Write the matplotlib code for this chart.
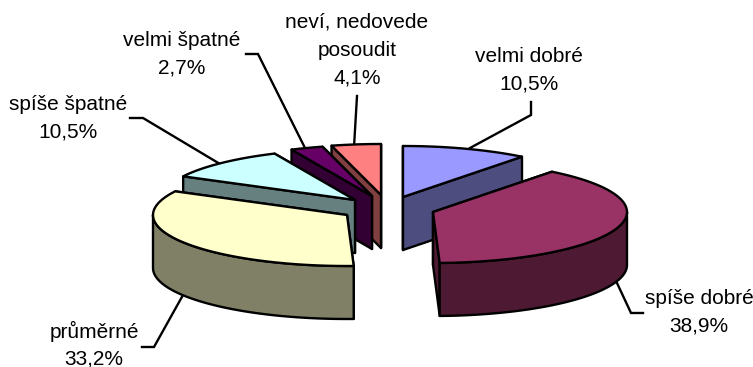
import numpy as np
import matplotlib
matplotlib.use("Agg")
import matplotlib.pyplot as plt

plt.rcParams['font.family'] = ['Liberation Sans', 'DejaVu Sans']

# slices clockwise from 12 o'clock
categories = ["velmi dobré", "spíše dobré", "průměrné", "spíše špatné", "velmi špatné", "neví, nedovede\nposoudit"]
values = [10.5, 38.9, 33.2, 10.5, 2.7, 4.1]
top_colors = ["#9999FF", "#993366", "#FFFFCC", "#CCFFFF", "#660066", "#FF8080"]
side_colors = ["#4D4D80", "#4D1933", "#808066", "#668080", "#330033", "#804040"]

# where each exploded slice has its tip, in pixels
tips = [(403, 197), (433, 212), (347, 215), (355, 200), (372, 196), (381, 195)]
label_pos = [(529, 56), (699, 298), (94, 331), (68, 104), (182, 40), (357, 22)]
leaders = [
    [(531, 102), (531, 115), (470, 148)],
    [(643, 313), (631, 313), (617, 283)],
    [(142, 347), (154, 347), (183, 295)],
    [(130, 118), (143, 118), (220, 164)],
    [(246, 54), (258, 54), (305, 148)],
    [(357, 96), (354, 147)],
]

RX = 194
RY = 51
DEPTH = 53
LW = 1.7
draw_order = [5, 4, 3, 2, 0, 1]


def rim(tip, angles):
    rad = np.radians(angles)
    return tip[0] + RX * np.sin(rad), tip[1] - RY * np.cos(rad)


def face(ax, xs, ys, color, z):
    ax.fill(xs, ys, facecolor=color, edgecolor="black", linewidth=LW, joinstyle="round", zorder=z)


def draw_slice(ax, tip, start, end, top, side, z):
    # radial walls, the one further back first
    for a in sorted([start, end], key=lambda d: -np.cos(np.radians(d))):
        x, y = rim(tip, a)
        face(ax, [tip[0], x, x, tip[0]], [tip[1], y, y + DEPTH, tip[1] + DEPTH], side, z)
    # outer wall, only the part facing front
    a0, a1 = max(start, 90), min(end, 270)
    if a1 > a0:
        x, y = rim(tip, np.linspace(a0, a1, 60))
        face(ax, np.r_[x, x[::-1]], np.r_[y, y[::-1] + DEPTH], side, z + 0.1)
    x, y = rim(tip, np.linspace(start, end, 60))
    face(ax, np.r_[tip[0], x], np.r_[tip[1], y], top, z + 0.2)


def main():
    fig = plt.figure(figsize=(7.53, 3.67), dpi=100)
    ax = fig.add_axes([0, 0, 1, 1])
    ax.set_xlim(0, 753)
    ax.set_ylim(367, 0)
    ax.axis("off")

    edges = np.r_[0, np.cumsum(values)] * 360 / sum(values)
    for n, i in enumerate(draw_order):
        draw_slice(ax, tips[i], edges[i], edges[i + 1], top_colors[i], side_colors[i], 2 + n)

    for line in leaders:
        xs, ys = zip(*line)
        ax.plot(xs, ys, color="black", linewidth=LW, zorder=1, solid_joinstyle="miter")

    for name, val, (x, y) in zip(categories, values, label_pos):
        rows = name.split("\n") + [f"{val:.1f}%".replace(".", ",")]
        for k, row in enumerate(rows):
            ax.text(x, y + k * 28, row, ha="center", va="center", fontsize=15, color="black", zorder=20)

    fig.savefig("out.png", dpi=100)


if __name__ == "__main__":
    main()
